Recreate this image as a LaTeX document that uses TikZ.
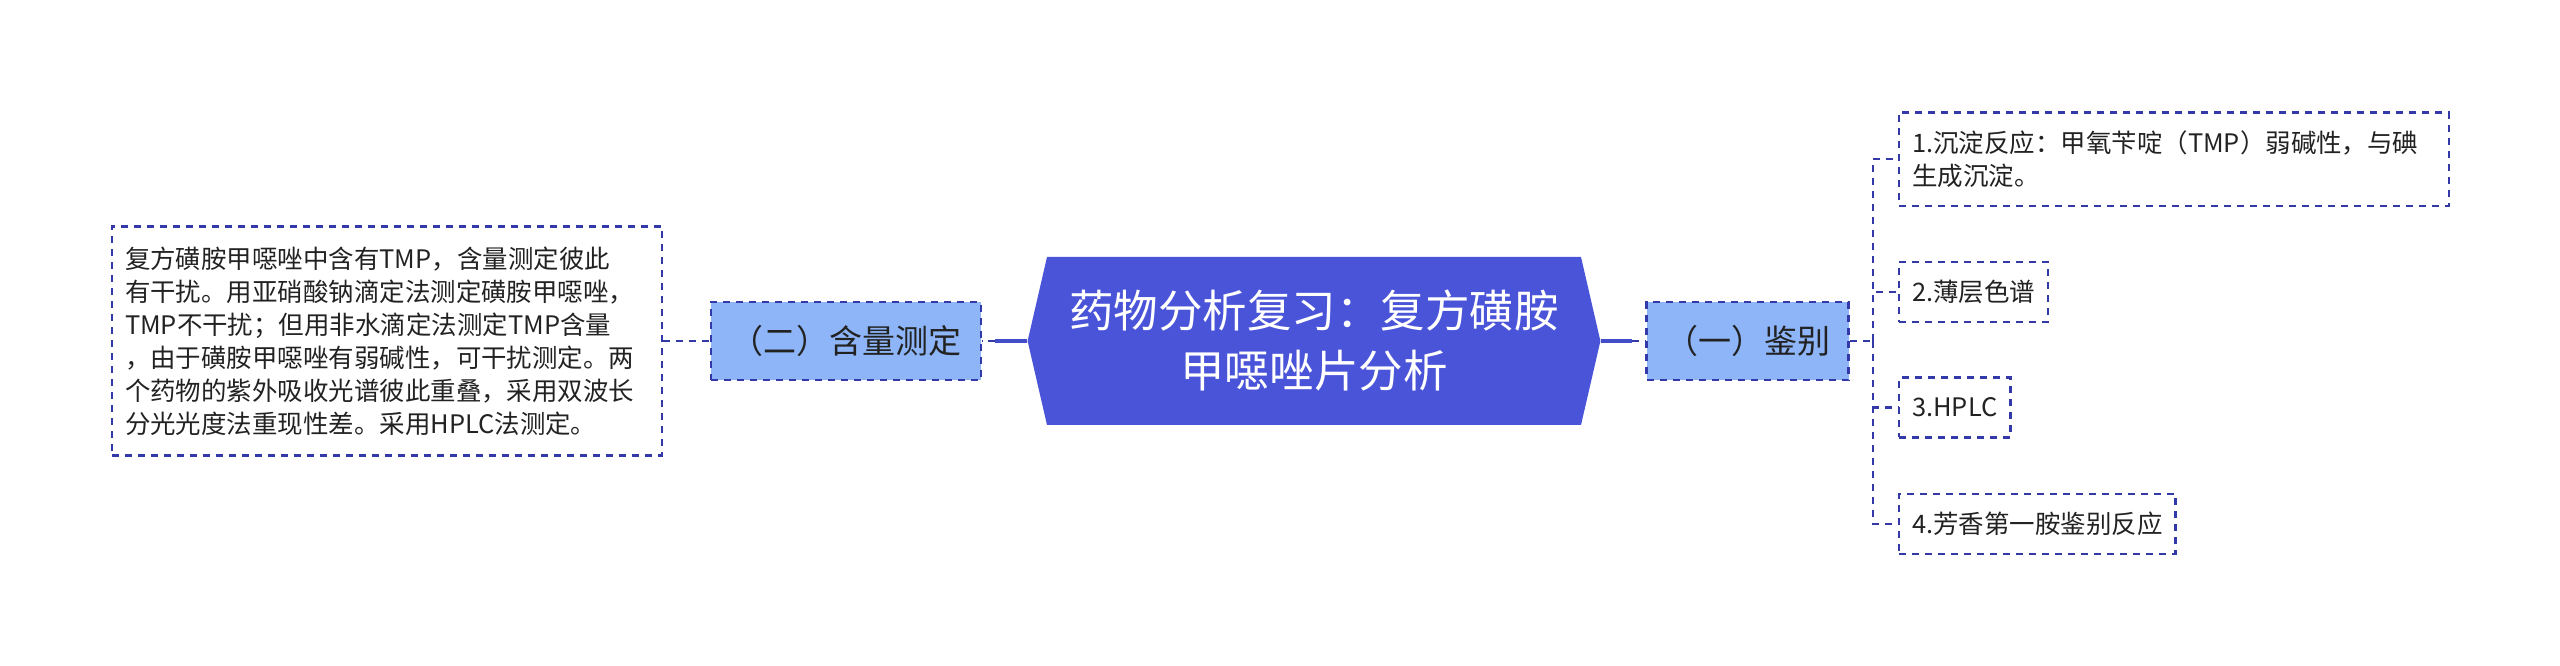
\documentclass[tikz,border=0pt]{standalone}
\usepackage{fontspec}
\setmainfont{Noto Sans CJK SC}
\usetikzlibrary{shapes.symbols}
\definecolor{rootblue}{HTML}{4A54D9}
\definecolor{secblue}{HTML}{8DB5F8}
\definecolor{lineblue}{HTML}{3339A8}
\definecolor{ink}{HTML}{222222}

\begin{document}
\begin{tikzpicture}[x=0.75pt,y=-0.75pt,
	dashline/.style={line width=1.7pt, dash pattern=on 5.25pt off 4.5pt},
	twig/.style={draw=lineblue, dashline},
	trunk/.style={draw=rootblue!92!black, line width=2.5pt},
	rootnode/.style={shape=signal, signal to=west and east, signal pointer angle=154, fill=rootblue, text=white, inner xsep=0pt, inner ysep=0pt, text width=400.5pt, minimum height=126pt, align=center, font=\fontsize{33.4pt}{45pt}\selectfont},
	secnode/.style={shape=rectangle, fill=secblue, draw=lineblue, dashline, text=ink, minimum height=58pt, font=\fontsize{24.75pt}{30pt}\selectfont},
	leafnode/.style={shape=rectangle, draw=lineblue, dashline, text=ink, anchor=west, inner xsep=9.75pt, minimum height=45pt, align=left, font=\fontsize{19.1pt}{24.75pt}\selectfont}]
	\useasboundingbox (0,0) rectangle (2560,666);

	\node[rootnode] (root) at (1314, 341) {药物分析复习：复方磺胺\\甲噁唑片分析};
	\node[secnode, minimum width=202.5pt] (hanliang) at (845.7, 341) {（二）含量测定};
	\node[secnode, minimum width=151.5pt] (jianbie) at (1747.6, 341) {（一）鉴别};
	\node[leafnode, text width=393pt, minimum height=171.75pt, anchor=center] (hlnote) at (387, 341) {复方磺胺甲噁唑中含有TMP，含量测定彼此\\有干扰。用亚硝酸钠滴定法测定磺胺甲噁唑，\\TMP不干扰；但用非水滴定法测定TMP含量\\，由于磺胺甲噁唑有弱碱性，可干扰测定。两\\个药物的紫外吸收光谱彼此重叠，采用双波长\\分光光度法重现性差。采用HPLC法测定。};
	\node[leafnode, text width=393pt, minimum height=70pt] (jb1) at (1898, 159.3) {1.沉淀反应：甲氧苄啶（TMP）弱碱性，与碘\\生成沉淀。};
	\node[leafnode] (jb2) at (1898, 292) {2.薄层色谱};
	\node[leafnode] (jb3) at (1898, 407.5) {3.HPLC};
	\node[leafnode] (jb4) at (1898, 524) {4.芳香第一胺鉴别反应};

	\coordinate (jl) at (995, 341);
	\coordinate (jr) at (1632, 341);
	\coordinate (fork) at (1873, 341);

	\draw[twig] (hlnote.east) -- (hanliang.west);
	\draw[trunk] (root.west) -- (jl);
	\draw[twig] (jl) -- (hanliang.east);
	\draw[trunk] (root.east) -- (jr);
	\draw[twig] (jr) -- (jianbie.west);
	\draw[twig] (jianbie.east) -- (fork);
	\foreach \leaf in {jb1,jb2,jb3,jb4}
		\draw[twig] (fork) |- (\leaf.west);

\end{tikzpicture}
\end{document}
